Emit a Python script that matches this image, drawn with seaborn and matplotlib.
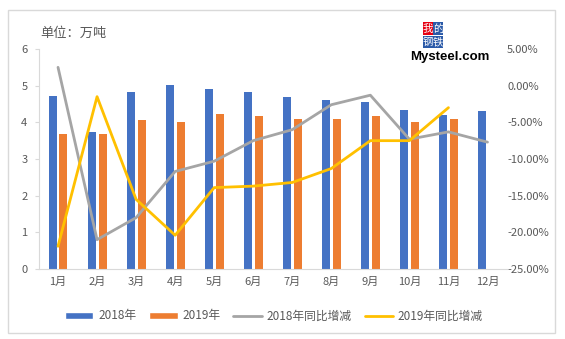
import numpy as np
import pandas as pd
import matplotlib
matplotlib.use("Agg")
import matplotlib.pyplot as plt
from matplotlib.patches import Rectangle, Patch
from matplotlib.lines import Line2D
import seaborn as sns

months = ["1月", "2月", "3月", "4月", "5月", "6月", "7月", "8月", "9月", "10月", "11月", "12月"]
prod_2018 = [4.73, 3.75, 4.82, 5.03, 4.90, 4.82, 4.70, 4.60, 4.55, 4.33, 4.20, 4.30]
prod_2019 = [3.68, 3.68, 4.07, 4.00, 4.22, 4.16, 4.10, 4.08, 4.18, 4.00, 4.08, np.nan]
yoy_2018 = [2.5, -21.0, -18.0, -11.7, -10.3, -7.5, -6.0, -2.6, -1.3, -7.3, -6.3, -7.7]
yoy_2019 = [-21.9, -1.5, -15.5, -20.4, -13.9, -13.7, -13.2, -11.3, -7.5, -7.5, -3.0, np.nan]
series_names = ["2018年", "2019年", "2018年同比增减", "2019年同比增减"]
left_ticks = [0, 1, 2, 3, 4, 5, 6]
right_ticks = [5, 0, -5, -10, -15, -20, -25]

sns.set_style("white")
plt.rcParams['font.family'] = ['Noto Sans CJK SC', 'DejaVu Sans']

C_BLUE, C_ORANGE, C_GRAY, C_YELLOW = "#4472C4", "#ED7D31", "#A5A5A5", "#FFC000"
TXT = "#595959"

fig = plt.figure(figsize=(5.65, 3.39), dpi=100)
W, H = 565, 339
ax = fig.add_axes([38.5 / W, 1 - 269 / H, (507 - 38.5) / W, 220 / H])

bars = pd.DataFrame({
    "month": months * 2,
    "value": prod_2018 + prod_2019,
    "series": [series_names[0]] * 12 + [series_names[1]] * 12,
})
sns.barplot(data=bars, x="month", y="value", hue="series", order=months,
            hue_order=series_names[:2], palette=[C_BLUE, C_ORANGE],
            width=0.56, gap=0.27, ax=ax, legend=False, saturation=1,
            linewidth=0, edgecolor="none")
ax.set_ylim(0, 6)
ax.set_xlim(-0.5, 11.5)
ax.set_yticks(left_ticks)
ax.set_xlabel("")
ax.set_ylabel("")
for s in ["top", "right"]:
    ax.spines[s].set_visible(False)
ax.spines["left"].set_color("#D9D9D9")
ax.spines["bottom"].set_color("#D9D9D9")
ax.tick_params(axis="y", colors="#D9D9D9", length=3, labelcolor=TXT, labelsize=8, pad=5, left=True)
ax.tick_params(axis="x", length=0, labelcolor=TXT, labelsize=8, pad=6)

ax2 = ax.twinx()
lines = pd.DataFrame({
    "x": list(range(12)) * 2,
    "value": yoy_2018 + yoy_2019,
    "series": [series_names[2]] * 12 + [series_names[3]] * 12,
})
sns.lineplot(data=lines, x="x", y="value", hue="series", hue_order=series_names[2:],
             palette=[C_GRAY, C_YELLOW], linewidth=2.0, ax=ax2, legend=False)
ax2.set_ylim(-25, 5)
ax2.set_xlim(-0.5, 11.5)
ax2.set_yticks(right_ticks)
ax2.set_yticklabels([f"{v:.2f}%" for v in right_ticks])
ax2.set_ylabel("")
ax2.set_xlabel("")
for s in ["top", "right", "left", "bottom"]:
    ax2.spines[s].set_visible(False)
ax2.tick_params(axis="y", length=0, labelcolor=TXT, labelsize=8, pad=0)

fig.text(40 / W, 1 - 33 / H, "单位：万吨", fontsize=9.5, color=TXT, va="center", ha="left")

# logo
def box(x, y, ch, fc):
    fig.patches.append(Rectangle((x / W, 1 - (y + 12.5) / H), 10 / W, 12.5 / H,
                                 transform=fig.transFigure, facecolor=fc, edgecolor="none"))
    fig.text((x + 5) / W, 1 - (y + 6.25) / H, ch, color="white", fontsize=7.5,
             ha="center", va="center")
box(422.5, 22.3, "我", "#E60012")
box(433, 22.3, "的", "#2B5AA8")
box(422.5, 35.8, "钢", "#2B5AA8")
box(433, 35.8, "铁", "#2B5AA8")
fig.text(450 / W, 1 - 57 / H, "Mysteel.com", fontsize=9.5, fontweight="bold",
         color="black", ha="center", va="center", family=["Liberation Sans"])

handles = [Patch(facecolor=C_BLUE), Patch(facecolor=C_ORANGE),
           Line2D([], [], color=C_GRAY, lw=2), Line2D([], [], color=C_YELLOW, lw=2)]
fig.legend(handles, series_names, loc="center", bbox_to_anchor=(274 / W, 1 - 316 / H),
           ncol=4, frameon=False, fontsize=8.5, labelcolor=TXT, handlelength=2.4,
           handleheight=0.6, columnspacing=1.1, handletextpad=0.4)

fig.patches.append(Rectangle((8 / W, 1 - 333 / H), 547 / W, 323 / H, transform=fig.transFigure,
                             facecolor="none", edgecolor="#D9D9D9", lw=1))

fig.savefig("out.png", dpi=100)
